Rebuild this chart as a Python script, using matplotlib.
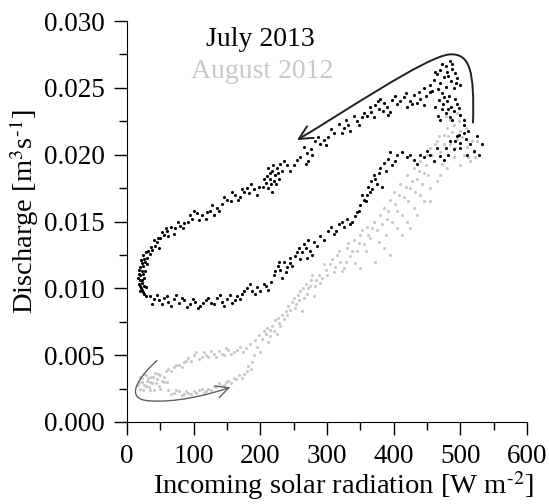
import numpy as np
import matplotlib
matplotlib.use('Agg')
import matplotlib.pyplot as plt
from matplotlib.path import Path
from matplotlib.patches import FancyArrowPatch

plt.rcParams['font.family'] = ['Liberation Serif', 'DejaVu Serif']
plt.rcParams['mathtext.fontset'] = 'stix'

# July 2013 (black) - (radiation W m-2, discharge m3 s-1)
jul_peak = [(484, 0.0270), (478, 0.0266), (470, 0.0263), (488, 0.0264), (465, 0.0260),
            (475, 0.0258), (482, 0.0259), (492, 0.0261), (460, 0.0256), (470, 0.0254),
            (486, 0.0255), (495, 0.0257), (455, 0.0252), (478, 0.0251), (490, 0.0250),
            (500, 0.0252), (466, 0.0249), (468, 0.0241), (474, 0.0238), (480, 0.0240),
            (486, 0.0236), (472, 0.0234), (490, 0.0233), (478, 0.0231), (495, 0.0238),
            (500, 0.0230), (484, 0.0228), (462, 0.0236), (505, 0.0226),
            (462, 0.0262), (473, 0.0268), (480, 0.0262), (488, 0.0268), (494, 0.0254),
            (458, 0.0248), (472, 0.0246), (483, 0.0244), (476, 0.0243), (492, 0.0242),
            (498, 0.0235), (466, 0.0229), (482, 0.0234), (488, 0.0226), (470, 0.0226)]
jul_right = [(505, 0.0222), (512, 0.0218), (498, 0.0215), (508, 0.0212), (515, 0.0208),
             (500, 0.0205), (520, 0.0203), (492, 0.0210), (525, 0.0214), (510, 0.0200),
             (532, 0.0208), (528, 0.0200)]
jul_falling = [(455, 0.0247), (448, 0.0244), (440, 0.0242), (430, 0.0245), (435, 0.0239),
               (425, 0.0240), (445, 0.0237), (415, 0.0243), (420, 0.0236), (410, 0.0240),
               (405, 0.0238), (398, 0.0241), (390, 0.0236), (385, 0.0239), (378, 0.0234),
               (372, 0.0237), (366, 0.0232), (360, 0.0229), (395, 0.0232), (380, 0.0242),
               (370, 0.0228), (352, 0.0228), (345, 0.0225), (340, 0.0229), (332, 0.0222),
               (325, 0.0220), (318, 0.0223), (310, 0.0216), (302, 0.0213), (335, 0.0218),
               (295, 0.0211), (290, 0.0208), (282, 0.0210), (276, 0.0204), (270, 0.0201),
               (265, 0.0206), (260, 0.0198), (255, 0.0196), (272, 0.0195), (230, 0.0193),
               (225, 0.0190), (222, 0.0185), (218, 0.0188), (214, 0.0182), (210, 0.0184),
               (216, 0.0178), (220, 0.0180), (208, 0.0179), (226, 0.0186), (212, 0.0175),
               (235, 0.0195), (198, 0.0176), (190, 0.0174), (183, 0.0171), (176, 0.0172),
               (170, 0.0168), (162, 0.0170), (156, 0.0165), (150, 0.0166), (186, 0.0178),
               (142, 0.0163), (135, 0.0160), (128, 0.0162), (120, 0.0157), (112, 0.0155),
               (105, 0.0156), (98, 0.0152), (92, 0.0150), (118, 0.0152), (130, 0.0155),
               (86, 0.0149), (80, 0.0147), (72, 0.0145), (66, 0.0146), (60, 0.0143),
               (55, 0.0140), (50, 0.0138), (45, 0.0135), (42, 0.0132), (62, 0.0139),
               (48, 0.0130),
               (445, 0.0250), (438, 0.0247), (428, 0.0238), (418, 0.0246), (402, 0.0244),
               (392, 0.0230), (384, 0.0233), (376, 0.0240), (364, 0.0236), (356, 0.0231),
               (348, 0.0222), (328, 0.0226), (322, 0.0216), (306, 0.0219), (298, 0.0207),
               (286, 0.0213), (278, 0.0200), (268, 0.0193), (250, 0.0192), (244, 0.0188),
               (212, 0.0190), (219, 0.0192), (223, 0.0178), (228, 0.0182), (206, 0.0182),
               (215, 0.0186), (232, 0.0188), (218, 0.0172), (204, 0.0176), (240, 0.0192),
               (195, 0.0170), (180, 0.0175), (166, 0.0166), (158, 0.0172), (145, 0.0168),
               (172, 0.0174), (138, 0.0158), (125, 0.0158), (108, 0.0151), (100, 0.0158),
               (94, 0.0155), (84, 0.0145), (76, 0.0150), (70, 0.0141), (58, 0.0145),
               (52, 0.0142), (46, 0.0138), (40, 0.0136), (36, 0.0131)]
jul_left = [(38, 0.0129), (34, 0.0126), (30, 0.0123), (27, 0.0120), (24, 0.0117),
            (22, 0.0113), (20, 0.0110), (19, 0.0106), (20, 0.0102), (22, 0.0099),
            (26, 0.0096), (30, 0.0118), (25, 0.0108), (28, 0.0101), (18, 0.0114),
            (21, 0.0121), (23, 0.0104), (19, 0.0098), (24, 0.0125),
            (32, 0.0128), (28, 0.0127), (26, 0.0122), (22, 0.0119), (20, 0.0116),
            (18, 0.0111), (17, 0.0108), (18, 0.0103), (21, 0.0100), (24, 0.0097),
            (29, 0.0094), (27, 0.0113), (24, 0.0111), (22, 0.0106), (25, 0.0102)]
jul_rising = [(34, 0.0094), (40, 0.0092), (48, 0.0091), (55, 0.0093), (62, 0.0090),
              (70, 0.0092), (78, 0.0089), (86, 0.0091), (95, 0.0088), (102, 0.0090),
              (110, 0.0087), (118, 0.0091), (126, 0.0089), (135, 0.0093), (142, 0.0090),
              (150, 0.0092), (158, 0.0089), (165, 0.0094), (172, 0.0096), (180, 0.0100),
              (188, 0.0098), (195, 0.0101), (205, 0.0103), (212, 0.0099), (220, 0.0110),
              (226, 0.0117), (230, 0.0114), (235, 0.0120), (240, 0.0116), (245, 0.0119),
              (252, 0.0124), (258, 0.0130), (262, 0.0127), (266, 0.0133), (270, 0.0123),
              (275, 0.0128), (280, 0.0135), (290, 0.0139), (302, 0.0143), (310, 0.0141),
              (318, 0.0148), (325, 0.0146), (330, 0.0152), (338, 0.0150), (345, 0.0157),
              (350, 0.0162), (355, 0.0166), (360, 0.0170), (362, 0.0176), (366, 0.0180),
              (370, 0.0185), (375, 0.0178), (380, 0.0190), (385, 0.0194), (392, 0.0197),
              (398, 0.0192), (405, 0.0200), (420, 0.0198), (430, 0.0196), (440, 0.0200),
              (450, 0.0203), (460, 0.0195), (470, 0.0199), (478, 0.0205), (485, 0.0210),
              (495, 0.0214),
              (38, 0.0088), (45, 0.0095), (52, 0.0088), (60, 0.0094), (66, 0.0087),
              (74, 0.0095), (82, 0.0093), (90, 0.0086), (99, 0.0092), (106, 0.0085),
              (114, 0.0089), (122, 0.0093), (131, 0.0088), (139, 0.0095), (146, 0.0087),
              (155, 0.0095), (162, 0.0091), (170, 0.0092), (176, 0.0098), (184, 0.0103),
              (192, 0.0096), (200, 0.0098), (208, 0.0102), (216, 0.0105), (222, 0.0113),
              (228, 0.0120), (232, 0.0108), (238, 0.0112), (244, 0.0123), (248, 0.0117),
              (255, 0.0127), (260, 0.0122), (268, 0.0130), (272, 0.0136), (278, 0.0125),
              (285, 0.0132), (295, 0.0136), (306, 0.0146), (314, 0.0143), (322, 0.0150),
              (334, 0.0148), (342, 0.0154), (348, 0.0158), (352, 0.0170), (358, 0.0165),
              (364, 0.0172), (368, 0.0174), (372, 0.0182), (378, 0.0186), (382, 0.0176),
              (388, 0.0188), (395, 0.0202), (402, 0.0195), (412, 0.0202), (425, 0.0200),
              (435, 0.0193), (445, 0.0198), (455, 0.0200), (465, 0.0205), (475, 0.0196),
              (482, 0.0200), (490, 0.0204), (500, 0.0209), (505, 0.0216)]

# August 2012 (grey)
aug_low = [(18, 0.0030), (22, 0.0033), (25, 0.0028), (28, 0.0035), (30, 0.0031),
           (33, 0.0026), (36, 0.0034), (38, 0.0029), (42, 0.0037), (45, 0.0032),
           (48, 0.0027), (50, 0.0035), (55, 0.0030), (58, 0.0038), (20, 0.0025),
           (40, 0.0024), (62, 0.0024), (70, 0.0022), (78, 0.0023), (85, 0.0021),
           (92, 0.0022), (100, 0.0023), (108, 0.0024), (115, 0.0022), (122, 0.0025),
           (130, 0.0027), (138, 0.0029), (145, 0.0028), (152, 0.0031), (160, 0.0033),
           (168, 0.0035), (175, 0.0036), (62, 0.0040), (70, 0.0041), (78, 0.0043),
           (85, 0.0045), (92, 0.0048), (100, 0.0050), (108, 0.0047), (115, 0.0052),
           (122, 0.0049), (130, 0.0051), (138, 0.0053), (145, 0.0050), (152, 0.0054),
           (160, 0.0052), (170, 0.0056), (178, 0.0055),
           (16, 0.0028), (19, 0.0034), (23, 0.0030), (26, 0.0036), (29, 0.0027),
           (32, 0.0033), (35, 0.0030), (39, 0.0034), (43, 0.0029), (46, 0.0036),
           (52, 0.0031), (56, 0.0034), (60, 0.0030), (24, 0.0024), (35, 0.0024),
           (50, 0.0025), (66, 0.0021), (74, 0.0024), (82, 0.0020), (89, 0.0023),
           (96, 0.0021), (104, 0.0022), (112, 0.0025), (119, 0.0023), (126, 0.0024),
           (134, 0.0026), (141, 0.0027), (149, 0.0030), (156, 0.0029), (164, 0.0032),
           (172, 0.0033), (180, 0.0038), (186, 0.0040), (66, 0.0038), (74, 0.0043),
           (82, 0.0041), (88, 0.0046), (96, 0.0046), (104, 0.0052), (112, 0.0049),
           (119, 0.0050), (126, 0.0053), (134, 0.0049), (142, 0.0051), (148, 0.0055),
           (156, 0.0051), (165, 0.0054), (174, 0.0052)]
aug_mid = [(182, 0.0042), (188, 0.0045), (185, 0.0058), (192, 0.0061), (198, 0.0065),
           (200, 0.0052), (205, 0.0068), (210, 0.0070), (212, 0.0060), (218, 0.0072),
           (222, 0.0076), (228, 0.0074), (232, 0.0080), (238, 0.0083), (225, 0.0066),
           (215, 0.0064), (242, 0.0087), (248, 0.0090), (252, 0.0085), (256, 0.0095),
           (260, 0.0098), (265, 0.0093), (268, 0.0103), (272, 0.0100), (276, 0.0106),
           (282, 0.0102), (288, 0.0110), (292, 0.0108), (298, 0.0114), (262, 0.0083),
           (280, 0.0094),
           (190, 0.0050), (195, 0.0056), (202, 0.0062), (208, 0.0066), (214, 0.0069),
           (220, 0.0068), (226, 0.0078), (230, 0.0072), (235, 0.0077), (240, 0.0080),
           (245, 0.0084), (250, 0.0093), (254, 0.0088), (258, 0.0091), (264, 0.0100),
           (270, 0.0096), (274, 0.0102), (278, 0.0110), (284, 0.0106), (290, 0.0104),
           (295, 0.0118), (300, 0.0110)]
aug_high = [(305, 0.0118), (310, 0.0112), (315, 0.0125), (320, 0.0120), (325, 0.0115),
            (330, 0.0130), (335, 0.0124), (340, 0.0136), (345, 0.0128), (350, 0.0140),
            (355, 0.0133), (360, 0.0146), (365, 0.0138), (370, 0.0150), (375, 0.0144),
            (380, 0.0155), (385, 0.0130), (395, 0.0125), (372, 0.0120), (350, 0.0115),
            (385, 0.0160), (390, 0.0152), (395, 0.0166), (400, 0.0172), (405, 0.0158),
            (410, 0.0178), (415, 0.0168), (420, 0.0185), (425, 0.0175), (430, 0.0190),
            (435, 0.0182), (440, 0.0195), (445, 0.0186), (450, 0.0200), (405, 0.0145),
            (420, 0.0150), (430, 0.0160), (440, 0.0170), (455, 0.0165), (455, 0.0205),
            (460, 0.0195), (465, 0.0210), (470, 0.0202), (475, 0.0215), (480, 0.0220),
            (485, 0.0208), (490, 0.0222), (495, 0.0212), (500, 0.0218), (505, 0.0200),
            (510, 0.0206), (515, 0.0195), (520, 0.0202), (525, 0.0210), (470, 0.0185),
            (480, 0.0190), (490, 0.0198), (500, 0.0192), (485, 0.0226), (478, 0.0229),
            (495, 0.0231),
            (308, 0.0122), (312, 0.0116), (318, 0.0128), (322, 0.0113), (328, 0.0120),
            (332, 0.0134), (338, 0.0128), (342, 0.0119), (348, 0.0134), (352, 0.0144),
            (358, 0.0128), (362, 0.0140), (368, 0.0145), (378, 0.0135), (382, 0.0148),
            (388, 0.0140), (392, 0.0158), (398, 0.0150), (402, 0.0163), (408, 0.0170),
            (412, 0.0155), (418, 0.0176), (422, 0.0165), (428, 0.0180), (432, 0.0172),
            (438, 0.0188), (442, 0.0178), (448, 0.0192), (452, 0.0185), (458, 0.0200),
            (462, 0.0208), (468, 0.0214), (472, 0.0193), (476, 0.0208), (482, 0.0214),
            (488, 0.0217), (492, 0.0205), (498, 0.0225), (503, 0.0213), (508, 0.0220),
            (512, 0.0198), (518, 0.0210), (522, 0.0198), (465, 0.0180), (455, 0.0175),
            (445, 0.0165), (435, 0.0155), (425, 0.0145), (412, 0.0140)]

jul = np.array(jul_peak + jul_right + jul_falling + jul_left + jul_rising)
aug = np.array(aug_low + aug_mid + aug_high)

fig = plt.figure(figsize=(5.49, 5.04), dpi=100)
ax = fig.add_axes([0.2313, 0.1627, 0.7287, 0.7956])

ax.scatter(aug[:, 0], aug[:, 1], s=5, color='#c8c8c8', linewidths=0, zorder=2)
ax.scatter(jul[:, 0], jul[:, 1], s=5, color='black', linewidths=0, zorder=3)

# hysteresis arrows
black_path = Path([(519, 0.0224), (521, 0.0262), (515, 0.0276), (484, 0.0275),
                   (450, 0.0274), (320, 0.0230), (255, 0.0211)],
                  [Path.MOVETO, Path.CURVE4, Path.CURVE4, Path.CURVE4,
                   Path.CURVE4, Path.CURVE4, Path.CURVE4])
ax.add_patch(FancyArrowPatch(path=black_path, arrowstyle='->', mutation_scale=24,
                             color='#202020', lw=1.4, clip_on=False, zorder=4))
grey_path = Path([(45, 0.0046), (20, 0.0035), (-5, 0.0018), (30, 0.0016),
                  (70, 0.0014), (120, 0.0020), (155, 0.0026)],
                 [Path.MOVETO, Path.CURVE4, Path.CURVE4, Path.CURVE4,
                  Path.CURVE4, Path.CURVE4, Path.CURVE4])
ax.add_patch(FancyArrowPatch(path=grey_path, arrowstyle='->', mutation_scale=22,
                             color='#606060', lw=1.0, clip_on=False, zorder=4))

ax.text(0.333, 0.955, 'July 2013', transform=ax.transAxes, ha='center', va='center',
        fontsize=20, color='black')
ax.text(0.337, 0.875, 'August 2012', transform=ax.transAxes, ha='center', va='center',
        fontsize=20, color='#c8c8c8')

ax.set_xlim(0, 600)
ax.set_ylim(0, 0.030)
ax.set_xticks(np.arange(0, 601, 100))
ax.set_xticks(np.arange(50, 600, 100), minor=True)
ax.set_yticks(np.arange(0, 0.0301, 0.005))
ax.set_yticks(np.arange(0.0025, 0.030, 0.005), minor=True)
ax.yaxis.set_major_formatter(matplotlib.ticker.FormatStrFormatter('%.3f'))
ax.tick_params(which='major', direction='out', length=9.5, width=1, labelsize=19.5, pad=6.5)
ax.tick_params(which='minor', direction='out', length=5.5, width=1)

for side in ['top', 'right']:
    ax.spines[side].set_visible(False)

ax.set_xlabel('Incoming solar radiation [W m$^{\u2010 2}$]', fontsize=20.5)
ax.set_ylabel('Discharge [m$^{3}$s$^{\u2010 1}$]', fontsize=20.5)
ax.xaxis.set_label_coords(0.54, -0.118)
ax.yaxis.set_label_coords(-0.215, 0.524)

fig.savefig('out.png', dpi=100)
